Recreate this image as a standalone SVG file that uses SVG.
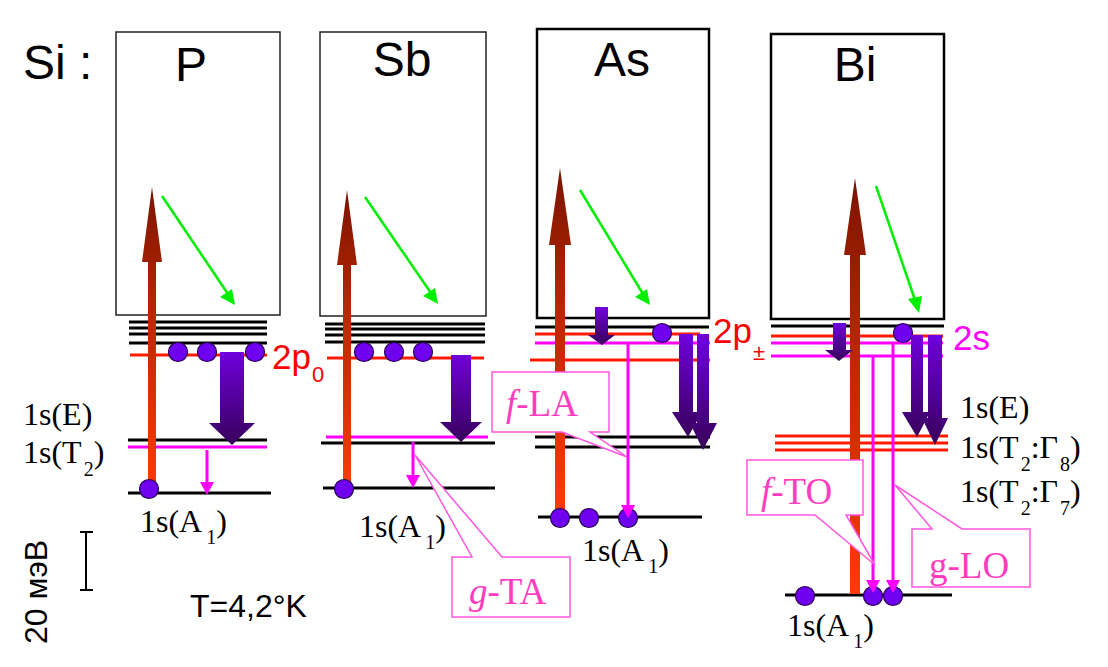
<svg xmlns="http://www.w3.org/2000/svg" width="1108" height="667" viewBox="0 0 1108 667">
<defs>
<linearGradient id="redG" x1="0" y1="0" x2="0" y2="1">
<stop offset="0" stop-color="#7a1400"/>
<stop offset="0.45" stop-color="#c02800"/>
<stop offset="1" stop-color="#ff3a00"/>
</linearGradient>
<linearGradient id="purG" x1="0" y1="0" x2="0" y2="1">
<stop offset="0" stop-color="#7000dc"/>
<stop offset="1" stop-color="#37005a"/>
</linearGradient>
<style>
.box{fill:#fff;stroke:#222;stroke-width:1.5}
.box2{fill:#fff;stroke:#000;stroke-width:2.5}
.lk{stroke:#000;stroke-width:3}
.lr{stroke:#ff1a00;stroke-width:3}
.lm{stroke:#ff00ff;stroke-width:3}
.el{fill:#7000f0;stroke:#2a0050;stroke-width:1.2}
.red{fill:url(#redG)}
.pur{fill:url(#purG)}
.mg{stroke:#ff00ff;stroke-width:3;fill:none}
.mh{fill:#ff00ff}
.gr{stroke:#00ee00;stroke-width:2.5;fill:none}
.gh{fill:#00ee00}
.co{fill:#fff;stroke:#ff55e0;stroke-width:1.5}
.ct{font-family:"Liberation Serif",serif;font-size:37px;fill:#ff3cc0}
.sans{font-family:"Liberation Sans",Arial,sans-serif;fill:#000}
.ser{font-family:"Liberation Serif",serif;font-size:32px;fill:#000}
.t1{font-size:48px}
.lab{font-family:"Liberation Sans",Arial,sans-serif;font-size:35px}
</style>
</defs>
<rect width="1108" height="667" fill="#fff"/>

<text class="sans t1" x="23" y="79">Si :</text>

<g id="P">
<rect class="box" x="116" y="32" width="164" height="283"/>
<text class="sans t1" x="191" y="81" text-anchor="middle">P</text>
<line class="lk" x1="129" y1="322" x2="267" y2="322"/>
<line class="lk" x1="129" y1="328" x2="267" y2="328"/>
<line class="lk" x1="129" y1="334" x2="267" y2="334"/>
<line class="lk" x1="129" y1="343" x2="267" y2="343"/>
<line class="lr" x1="130" y1="355" x2="267" y2="355"/>
<line class="lk" x1="128" y1="440" x2="267" y2="440"/>
<line class="lm" x1="128" y1="447" x2="267" y2="447"/>
<line class="lk" x1="128" y1="493" x2="271" y2="493"/>
<path class="red" d="M148,489 L148,262 L142,262 L152,187 L162,262 L156,262 L156,489 Z"/>
<line class="gr" x1="162" y1="196" x2="228" y2="294"/>
<polygon class="gh" points="235,305 220,297 232,289"/>
<circle class="el" cx="178" cy="352" r="9.5"/>
<circle class="el" cx="207" cy="352" r="9.5"/>
<circle class="el" cx="255" cy="352" r="9.5"/>
<circle class="el" cx="149" cy="489" r="9.5"/>
<path class="pur" d="M220,352 L244,352 L244,423 L255,423 L232,445 L209,423 L220,423 Z"/>
<line class="mg" x1="207" y1="450" x2="207" y2="484"/>
<polygon class="mh" points="200,482 214,482 207,495"/>
<text class="lab" x="272" y="369" fill="#ff0000">2p<tspan font-size="22" dx="1" dy="13">0</tspan></text>
<text class="ser" x="23" y="425">1s(E)</text>
<text class="ser" x="23" y="463">1s(T<tspan font-size="20" dx="2" dy="13">2</tspan><tspan dy="-13">)</tspan></text>
<text class="ser" x="140" y="532">1s(A<tspan font-size="20" dx="4" dy="12">1</tspan><tspan dy="-12">)</tspan></text>
</g>

<g id="Sb">
<rect class="box" x="320" y="32" width="166" height="284"/>
<text class="sans t1" x="402" y="76" text-anchor="middle">Sb</text>
<line class="lk" x1="325" y1="324" x2="485" y2="324"/>
<line class="lk" x1="325" y1="329" x2="485" y2="329"/>
<line class="lk" x1="325" y1="335" x2="485" y2="335"/>
<line class="lk" x1="325" y1="342" x2="485" y2="342"/>
<line class="lr" x1="327" y1="358" x2="484" y2="358"/>
<line class="lm" x1="326" y1="437" x2="488" y2="437"/>
<line class="lk" x1="321" y1="443" x2="495" y2="443"/>
<line class="lk" x1="323" y1="488" x2="495" y2="488"/>
<path class="red" d="M343,489 L343,265 L337,265 L347,190 L357,265 L351,265 L351,489 Z"/>
<line class="gr" x1="365" y1="197" x2="431" y2="293"/>
<polygon class="gh" points="438,304 423,296 435,288"/>
<circle class="el" cx="364" cy="352" r="9.5"/>
<circle class="el" cx="394" cy="352" r="9.5"/>
<circle class="el" cx="423" cy="352" r="9.5"/>
<circle class="el" cx="344" cy="489" r="9.5"/>
<path class="pur" d="M451,355 L471,355 L471,422 L482,422 L461,442 L440,422 L451,422 Z"/>
<line class="mg" x1="413" y1="442" x2="413" y2="477"/>
<polygon class="mh" points="406,475 420,475 413,488"/>
<text class="ser" x="359" y="537">1s(A<tspan font-size="20" dx="4" dy="12">1</tspan><tspan dy="-12">)</tspan></text>
</g>

<g id="As">
<rect class="box2" x="537" y="29" width="172" height="289"/>
<text class="sans t1" x="622" y="76" text-anchor="middle">As</text>
<line class="lk" x1="535" y1="327" x2="709" y2="327"/>
<line class="lr" x1="535" y1="334" x2="700" y2="334"/>
<line class="lm" x1="535" y1="343" x2="710" y2="343"/>
<line class="lr" x1="530" y1="360" x2="710" y2="360"/>
<line class="lk" x1="535" y1="437" x2="710" y2="437"/>
<line class="lk" x1="535" y1="447" x2="710" y2="447"/>
<line class="lk" x1="538" y1="517" x2="702" y2="517"/>
<path class="red" d="M555,518 L555,245 L549,245 L560,168 L571,245 L565,245 L565,518 Z"/>
<line class="gr" x1="580" y1="190" x2="643" y2="294"/>
<polygon class="gh" points="650,305 635,297 647,289"/>
<circle class="el" cx="662" cy="333" r="9.5"/>
<circle class="el" cx="560" cy="518" r="9.5"/>
<circle class="el" cx="589" cy="518" r="9.5"/>
<circle class="el" cx="628" cy="518" r="9.5"/>
<path class="pur" d="M595,307 L608,307 L608,335 L615,335 L602,345 L588,335 L595,335 Z"/>
<path class="pur" d="M679,334 L693,334 L693,412 L702,412 L688,437 L672,412 L679,412 Z"/>
<path class="pur" d="M697,334 L709,334 L709,423 L717,423 L703,450 L690,423 L697,423 Z"/>
<line class="mg" x1="628" y1="343" x2="628" y2="507"/>
<polygon class="mh" points="621,505 635,505 628,518"/>
<text class="lab" x="713" y="343" fill="#ff0000">2p<tspan font-size="22" dx="1" dy="17">±</tspan></text>
<text class="ser" x="582" y="561">1s(A<tspan font-size="20" dx="4" dy="12">1</tspan><tspan dy="-12">)</tspan></text>
</g>

<g id="Bi">
<rect class="box2" x="771" y="34" width="173" height="285"/>
<text class="sans t1" x="855" y="81" text-anchor="middle">Bi</text>
<line class="lk" x1="771" y1="326" x2="944" y2="326"/>
<line class="lr" x1="771" y1="336" x2="943" y2="336"/>
<line class="lm" x1="771" y1="343" x2="943" y2="343"/>
<line class="lm" x1="771" y1="356" x2="943" y2="356"/>
<line class="lr" x1="775" y1="436" x2="948" y2="436"/>
<line class="lr" x1="775" y1="443" x2="948" y2="443"/>
<line class="lr" x1="775" y1="450" x2="948" y2="450"/>
<line class="lk" x1="785" y1="595" x2="952" y2="595"/>
<path class="red" d="M850,594 L850,255 L844,255 L855,178 L866,255 L860,255 L860,594 Z"/>
<line class="gr" x1="876" y1="186" x2="915" y2="300"/>
<polygon class="gh" points="919,313 908,299 922,296"/>
<circle class="el" cx="903" cy="333" r="9.5"/>
<circle class="el" cx="805" cy="596" r="9.5"/>
<circle class="el" cx="873" cy="596" r="9.5"/>
<circle class="el" cx="893" cy="596" r="9.5"/>
<path class="pur" d="M833,323 L846,323 L846,350 L853,350 L839,361 L825,350 L833,350 Z"/>
<path class="pur" d="M911,335 L923,335 L923,412 L930,412 L917,437 L902,412 L911,412 Z"/>
<path class="pur" d="M928,335 L942,335 L942,418 L948,418 L935,445 L922,418 L928,418 Z"/>
<line class="mg" x1="873" y1="356" x2="873" y2="582"/>
<polygon class="mh" points="866,580 880,580 873,593"/>
<line class="mg" x1="893" y1="343" x2="893" y2="582"/>
<polygon class="mh" points="886,580 900,580 893,593"/>
<text class="lab" x="953" y="350" fill="#ff00ff">2s</text>
<text class="ser" x="960" y="418">1s(E)</text>
<text class="ser" x="960" y="458">1s(T<tspan font-size="20" dx="2" dy="13">2</tspan><tspan dy="-13">:Γ</tspan><tspan font-size="20" dx="2" dy="13">8</tspan><tspan dy="-13">)</tspan></text>
<text class="ser" x="960" y="502">1s(T<tspan font-size="20" dx="2" dy="13">2</tspan><tspan dy="-13">:Γ</tspan><tspan font-size="20" dx="2" dy="13">7</tspan><tspan dy="-13">)</tspan></text>
<text class="ser" x="787" y="636">1s(A<tspan font-size="20" dx="4" dy="12">1</tspan><tspan dy="-12">)</tspan></text>
</g>

<g id="callouts">
<g id="gTA">
<path class="co" d="M452,557 L472,557 L415,455 L502,557 L570,557 L570,617 L452,617 Z"/>
<text class="ct" x="469" y="604"><tspan font-style="italic">g</tspan>-TA</text>
</g>
<g id="fLA">
<path class="co" d="M492,372 L609,372 L609,432 L590,432 L627,457 L562,432 L492,432 Z"/>
<text class="ct" x="506" y="416"><tspan font-style="italic">f</tspan>-LA</text>
</g>
<g id="fTO">
<path class="co" d="M747,460 L863,460 L863,515 L846,515 L875,565 L815,515 L747,515 Z"/>
<text class="ct" x="761" y="504"><tspan font-style="italic">f</tspan>-TO</text>
</g>
<g id="gLO">
<path class="co" d="M912,529 L932,529 L895,485 L962,529 L1030,529 L1030,587 L912,587 Z"/>
<text class="ct" x="929" y="578">g-LO</text>
</g>
</g>

<g id="scale">
<line x1="86" y1="532" x2="86" y2="590" stroke="#000" stroke-width="2"/>
<line x1="80" y1="532" x2="93" y2="532" stroke="#000" stroke-width="2"/>
<line x1="80" y1="590" x2="93" y2="590" stroke="#000" stroke-width="2"/>
<text class="sans" font-size="32" x="47" y="592" text-anchor="middle" transform="rotate(-90 47 592)">20 мэВ</text>
</g>
<text class="sans" font-size="32" x="190" y="617">T=4,2°K</text>
</svg>
